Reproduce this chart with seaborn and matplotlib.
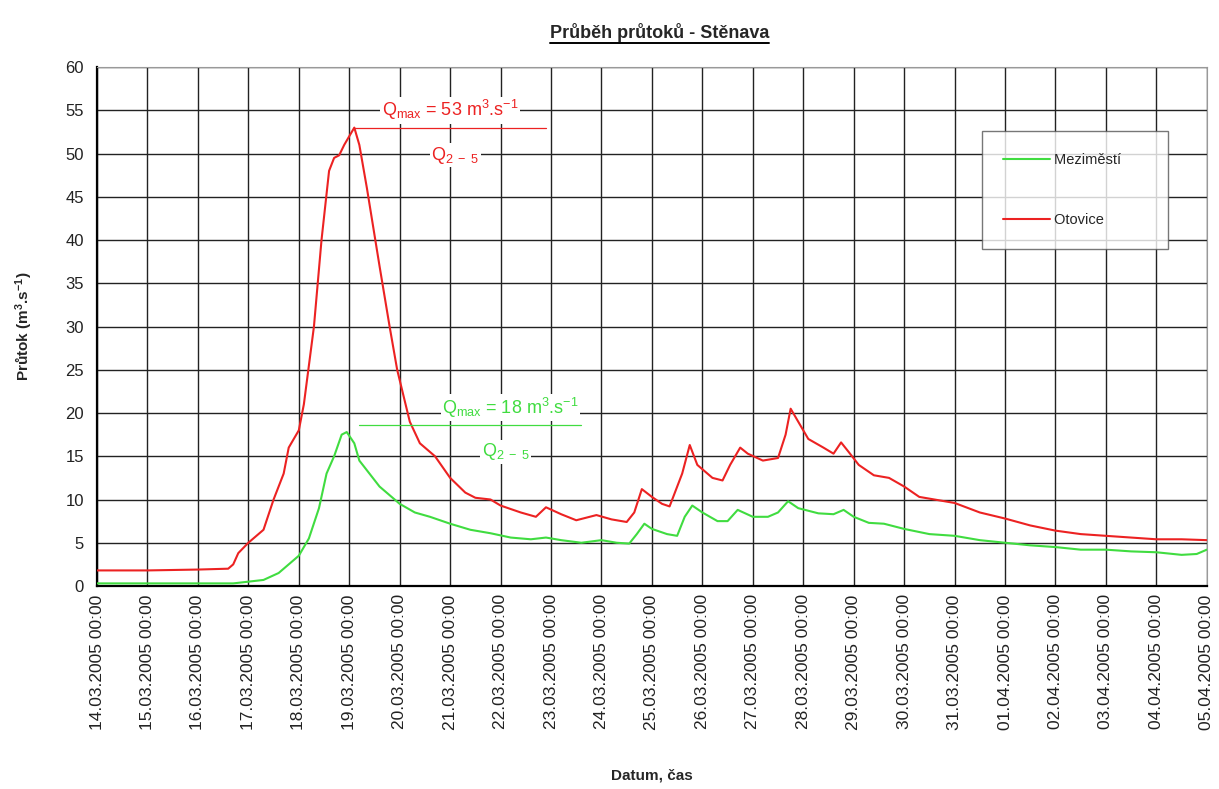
import pandas as pd
import matplotlib
matplotlib.use('Agg')
import matplotlib.pyplot as plt
import matplotlib.dates as mdates
from matplotlib.lines import Line2D
import seaborn as sns

# days since 14.03.2005 00:00 and discharge (m3/s)
otovice_t = [0, 1, 2, 2.6, 2.7, 2.8, 3.0, 3.3, 3.5, 3.7, 3.8, 4.0, 4.1, 4.3, 4.45, 4.6, 4.7,
             4.8, 4.9, 5.0, 5.1, 5.2, 5.35, 5.6, 5.8, 5.95, 6.2, 6.4, 6.7, 7.0, 7.3, 7.5, 7.8,
             8.0, 8.4, 8.7, 8.9, 9.2, 9.5, 9.9, 10.2, 10.5, 10.65, 10.8, 11.0, 11.2, 11.35,
             11.6, 11.75, 11.9, 12.2, 12.4, 12.55, 12.75, 12.9, 13.2, 13.5, 13.65, 13.75,
             13.9, 14.1, 14.4, 14.6, 14.75, 14.9, 15.1, 15.4, 15.7, 16.0, 16.3, 16.6, 17.0,
             17.5, 18.0, 18.5, 19.0, 19.5, 20.0, 20.5, 21.0, 21.5, 22.0]
otovice_q = [1.8, 1.8, 1.9, 2.0, 2.5, 3.8, 5.0, 6.5, 10, 13, 16, 18, 21, 30, 40, 48, 49.5,
             49.8, 51, 52, 53, 51, 46, 37, 30, 25, 19, 16.5, 15, 12.5, 10.8, 10.2, 10.0,
             9.3, 8.5, 8.0, 9.1, 8.3, 7.6, 8.2, 7.7, 7.4, 8.5, 11.2, 10.3, 9.5, 9.2,
             13, 16.3, 14, 12.5, 12.2, 14, 16.0, 15.3, 14.5, 14.8, 17.5, 20.5,
             19, 17, 16, 15.3, 16.6, 15.5, 14, 12.8, 12.5, 11.5, 10.3, 10.0, 9.6,
             8.5, 7.8, 7.0, 6.4, 6.0, 5.8, 5.6, 5.4, 5.4, 5.3]

mezimesti_t = [0, 1, 2, 2.7, 3.0, 3.3, 3.6, 3.8, 4.0, 4.2, 4.4, 4.55, 4.7, 4.85, 4.95, 5.1,
               5.2, 5.4, 5.6, 5.8, 6.0, 6.3, 6.6, 7.0, 7.4, 7.8, 8.2, 8.6, 8.9, 9.2, 9.6,
               10.0, 10.3, 10.55, 10.7, 10.85, 11.0, 11.3, 11.5, 11.65, 11.8, 12.0, 12.3,
               12.5, 12.7, 13.0, 13.3, 13.5, 13.7, 13.9, 14.3, 14.6, 14.8, 15.0, 15.3, 15.6,
               16.0, 16.5, 17.0, 17.5, 18.0, 18.5, 19.0, 19.5, 20.0, 20.5, 21.0, 21.5, 21.8, 22.0]
mezimesti_q = [0.3, 0.3, 0.3, 0.3, 0.5, 0.7, 1.5, 2.5, 3.5, 5.5, 9, 13, 15, 17.5, 17.8, 16.5,
               14.5, 13, 11.5, 10.5, 9.5, 8.5, 8, 7.2, 6.5, 6.1, 5.6, 5.4, 5.6, 5.3, 5.0,
               5.3, 5.0, 4.9, 6.0, 7.2, 6.6, 6.0, 5.8, 8, 9.3, 8.5, 7.5,
               7.5, 8.8, 8.0, 8.0, 8.5, 9.8, 9.0, 8.4, 8.3, 8.8, 8.0, 7.3, 7.2,
               6.6, 6.0, 5.8, 5.3, 5.0, 4.7, 4.5, 4.2, 4.2, 4.0, 3.9, 3.6, 3.7, 4.2]

start = pd.Timestamp('2005-03-14 00:00')
df = pd.concat([
    pd.DataFrame({'t': start + pd.to_timedelta(mezimesti_t, unit='D'), 'q': mezimesti_q, 'station': 'Meziměstí'}),
    pd.DataFrame({'t': start + pd.to_timedelta(otovice_t, unit='D'), 'q': otovice_q, 'station': 'Otovice'}),
])

sns.set_style('white')
plt.rcParams['font.family'] = ['Liberation Sans', 'DejaVu Sans']
plt.rcParams['mathtext.fontset'] = 'custom'
plt.rcParams['mathtext.rm'] = 'Liberation Sans'
plt.rcParams['mathtext.it'] = 'Liberation Sans'
plt.rcParams['mathtext.bf'] = 'Liberation Sans:bold'
plt.rcParams['mathtext.default'] = 'regular'

red, green = '#ec2222', '#40dc40'

fig = plt.figure(figsize=(12.19, 7.89), dpi=100)
ax = fig.add_axes([0.0796, 0.2573, 0.9104, 0.6577])

sns.lineplot(data=df, x='t', y='q', hue='station', palette={'Meziměstí': green, 'Otovice': red},
             estimator=None, sort=False, linewidth=1.5, ax=ax, zorder=3)

ax.set_xlim(start, start + pd.Timedelta(days=22))
ax.set_ylim(0, 60)
ax.set_yticks(range(0, 61, 5))
ax.xaxis.set_major_locator(mdates.DayLocator())
ax.xaxis.set_major_formatter(mdates.DateFormatter('%d.%m.%Y %H:%M'))
plt.setp(ax.get_xticklabels(), rotation=90)
ax.tick_params(axis='both', labelsize=12, colors='#222222', length=5, direction='inout')
ax.tick_params(axis='x', labelsize=12.5)
ax.tick_params(axis='y', pad=7)
ax.grid(True, color='#222222', linewidth=1.0)
for s in ['top', 'right']:
    ax.spines[s].set_color('#999999')
for s in ['left', 'bottom']:
    ax.spines[s].set_color('black')
    ax.spines[s].set_linewidth(1.6)

ax.set_xlabel('Datum, čas', fontsize=11, fontweight='bold')
ax.set_ylabel('Průtok (m$^3$.s$^{-1}$)', fontsize=11, fontweight='bold')
ax.xaxis.set_label_coords(0.5, -0.352)
ax.yaxis.set_label_coords(-0.056, 0.5)

title = fig.text(0.541, 0.959, 'Průběh průtoků - Stěnava', ha='center', va='center',
                 fontsize=13, fontweight='bold')

# annotations of the peaks
d = lambda x: start + pd.Timedelta(days=x)
box = dict(facecolor='white', edgecolor='none', pad=1)
ax.plot([d(5.1), d(8.9)], [52.9, 52.9], color=red, linewidth=0.9, zorder=4)
ax.text(d(7.0), 55.0, 'Q$_{max}$ = 53 m$^3$.s$^{-1}$', color=red, fontsize=13, ha='center', va='center',
        bbox=box, zorder=5)
ax.text(d(7.1), 49.8, 'Q$_{2\\ -\\ 5}$', color=red, fontsize=13, ha='center', va='center',
        bbox=box, zorder=5)
ax.plot([d(5.2), d(9.6)], [18.6, 18.6], color=green, linewidth=0.9, zorder=4)
ax.text(d(8.2), 20.6, 'Q$_{max}$ = 18 m$^3$.s$^{-1}$', color=green, fontsize=13, ha='center', va='center',
        bbox=box, zorder=5)
ax.text(d(8.1), 15.5, 'Q$_{2\\ -\\ 5}$', color=green, fontsize=13, ha='center', va='center',
        bbox=box, zorder=5)

handles, labels = ax.get_legend_handles_labels()
leg = ax.legend(handles, [l + '      ' for l in labels], loc='upper left',
                bbox_to_anchor=(0.797, 0.877), frameon=True,
                fancybox=False, edgecolor='#555555', fontsize=10.5, labelspacing=3.2,
                handlelength=3.2, handletextpad=0.3, borderpad=1.5, borderaxespad=0)
leg.get_frame().set_linewidth(1.0)
leg.set_zorder(6)

# underline the title
fig.canvas.draw()
bb = title.get_window_extent().transformed(fig.transFigure.inverted())
fig.add_artist(Line2D([bb.x0, bb.x1], [bb.y0 - 0.002, bb.y0 - 0.002], color='black', linewidth=1.4))

fig.savefig('out.png', dpi=100)
